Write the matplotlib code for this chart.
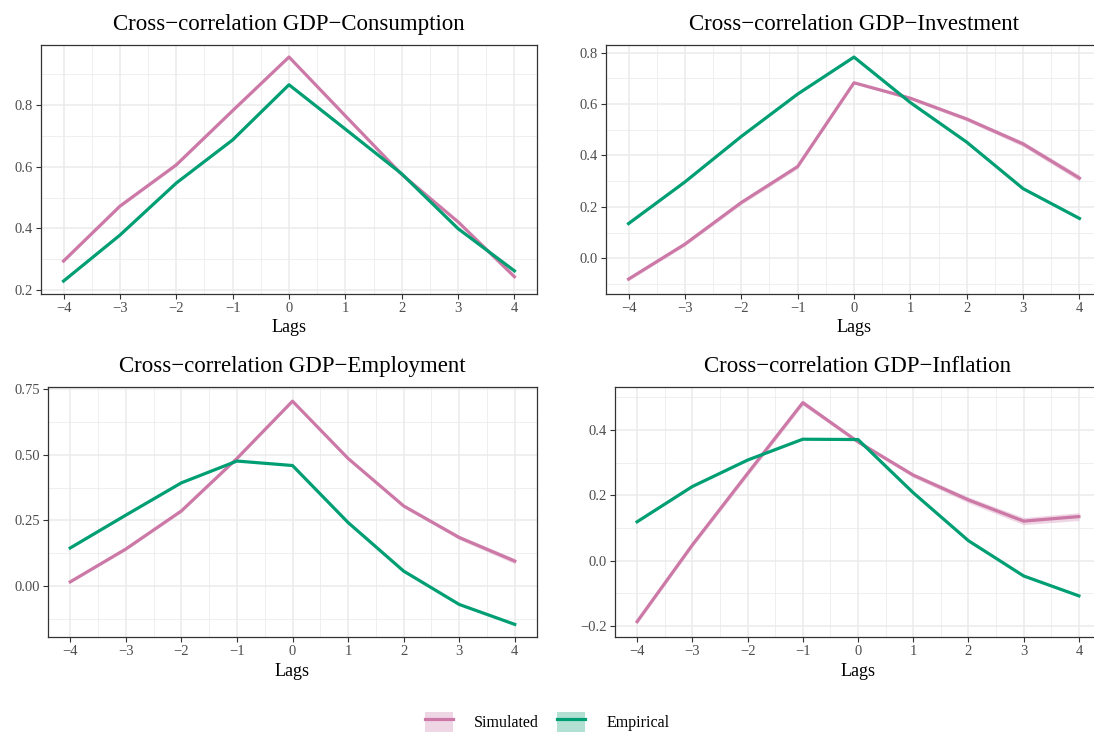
import matplotlib
matplotlib.use("Agg")
from matplotlib import pyplot as plt
from matplotlib.lines import Line2D
from matplotlib.patches import Patch
from matplotlib.ticker import FuncFormatter

plt.rcParams["font.family"] = ["Liberation Serif", "DejaVu Serif"]

lags = [-4, -3, -2, -1, 0, 1, 2, 3, 4]

titles = ["Cross\u2212correlation GDP\u2212Consumption",
          "Cross\u2212correlation GDP\u2212Investment",
          "Cross\u2212correlation GDP\u2212Employment",
          "Cross\u2212correlation GDP\u2212Inflation"]

# simulated (model) cross-correlations
sim_cons = [0.294, 0.472, 0.606, 0.782, 0.956, 0.765, 0.575, 0.421, 0.243]
sim_inv = [-0.081, 0.055, 0.217, 0.357, 0.683, 0.623, 0.542, 0.445, 0.312]
sim_emp = [0.016, 0.141, 0.286, 0.486, 0.704, 0.486, 0.305, 0.185, 0.095]
sim_infl = [-0.187, 0.048, 0.267, 0.484, 0.364, 0.262, 0.186, 0.121, 0.135]

# half width of the simulated band
band_cons = [0.004, 0.004, 0.004, 0.004, 0.003, 0.004, 0.004, 0.005, 0.006]
band_inv = [0.006, 0.007, 0.008, 0.008, 0.004, 0.006, 0.008, 0.010, 0.012]
band_emp = [0.004, 0.005, 0.005, 0.005, 0.003, 0.005, 0.006, 0.008, 0.010]
band_infl = [0.006, 0.007, 0.008, 0.008, 0.005, 0.007, 0.009, 0.011, 0.012]

# empirical cross-correlations
emp_cons = [0.229, 0.378, 0.547, 0.687, 0.866, 0.722, 0.577, 0.399, 0.262]
emp_inv = [0.135, 0.297, 0.474, 0.639, 0.783, 0.606, 0.452, 0.271, 0.155]
emp_emp = [0.145, 0.270, 0.393, 0.476, 0.459, 0.242, 0.057, -0.070, -0.146]
emp_infl = [0.119, 0.227, 0.308, 0.372, 0.371, 0.208, 0.061, -0.047, -0.108]

sims = [sim_cons, sim_inv, sim_emp, sim_infl]
bands = [band_cons, band_inv, band_emp, band_infl]
emps = [emp_cons, emp_inv, emp_emp, emp_infl]

yticks = [[0.2, 0.4, 0.6, 0.8],
          [0.0, 0.2, 0.4, 0.6, 0.8],
          [0.0, 0.25, 0.5, 0.75],
          [-0.2, 0.0, 0.2, 0.4]]
yminor = [[0.3, 0.5, 0.7, 0.9],
          [-0.1, 0.1, 0.3, 0.5, 0.7],
          [-0.125, 0.125, 0.375, 0.625],
          [-0.1, 0.1, 0.3, 0.5]]
ylims = [(0.187, 0.995), (-0.139, 0.83), (-0.194, 0.758), (-0.234, 0.532)]
ydec = [1, 1, 2, 1]

SIM = "#CC79A7"
EMP = "#009E73"
W, H = 1094, 734

# panel boxes in pixels: left, top, right, bottom
boxes = [(41, 45, 537, 294), (606, 45, 1102, 294),
         (48, 387, 537, 637), (615, 387, 1101, 637)]

fig = plt.figure(figsize=(W / 100, H / 100), dpi=100)

for i in range(4):
    l, t, r, b = boxes[i]
    ax = fig.add_axes([l / W, 1 - b / H, (r - l) / W, (b - t) / H])
    ax.fill_between(lags, [s - e for s, e in zip(sims[i], bands[i])],
                    [s + e for s, e in zip(sims[i], bands[i])],
                    color=SIM, alpha=0.3, lw=0, zorder=2)
    ax.plot(lags, sims[i], color=SIM, lw=2.3, zorder=3,
            solid_joinstyle="round")
    ax.plot(lags, emps[i], color=EMP, lw=2.3, zorder=4,
            solid_joinstyle="round")

    ax.set_xlim(-4.4, 4.4)
    ax.set_ylim(*ylims[i])
    ax.set_xticks(lags)
    ax.set_xticks([x + 0.5 for x in lags[:-1]], minor=True)
    ax.set_yticks(yticks[i])
    ax.set_yticks(yminor[i], minor=True)
    d = ydec[i]
    ax.yaxis.set_major_formatter(
        FuncFormatter(lambda v, p, d=d: f"{v:.{d}f}".replace("-", "\u2212")))
    ax.xaxis.set_major_formatter(
        FuncFormatter(lambda v, p: f"{v:.0f}".replace("-", "\u2212")))

    ax.grid(True, which="major", color="#EBEBEB", lw=1.1, zorder=0)
    ax.grid(True, which="minor", color="#EBEBEB", lw=0.55, zorder=0)
    ax.set_axisbelow(True)
    ax.tick_params(which="major", length=3.5, width=0.8, color="#333333",
                   labelsize=10.5, labelcolor="#4D4D4D", pad=2.5)
    ax.tick_params(which="minor", length=0)
    for s in ax.spines.values():
        s.set_color("#333333")
        s.set_linewidth(0.9)

    ax.set_title(titles[i], fontsize=16.5, pad=11)
    ax.set_xlabel("Lags", fontsize=13, labelpad=3)

handles = [(Patch(facecolor=SIM, alpha=0.3, lw=0), Line2D([], [], color=SIM, lw=2.3)),
           (Patch(facecolor=EMP, alpha=0.3, lw=0), Line2D([], [], color=EMP, lw=2.3))]
fig.legend(handles, ["Simulated", "Empirical"], loc="center",
           bbox_to_anchor=(0.5, 1 - 722 / H), ncol=2, frameon=False,
           fontsize=11.5, handlelength=1.75, handleheight=1.6,
           handletextpad=1.3, columnspacing=1.2)

fig.savefig("out.png", dpi=100)
